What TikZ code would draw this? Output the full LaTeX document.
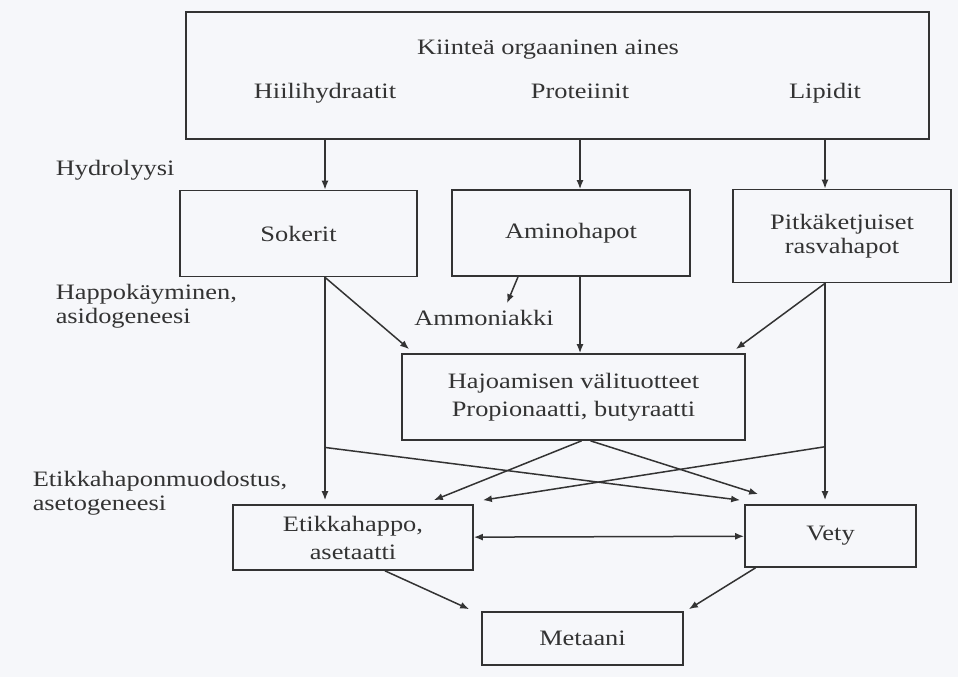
\documentclass[tikz,border=0pt]{standalone}
\usepackage{fontspec}
\setmainfont{Liberation Serif}[FakeStretch=1.2]
\usetikzlibrary{positioning}
\usetikzlibrary{calc}
\usetikzlibrary{arrows.meta}
\definecolor{ink}{HTML}{333333}
\definecolor{paper}{HTML}{F6F7FA}
\tikzset{
	-{Latex[length=9pt,width=7pt]},
	both/.style={{Latex[length=9pt,width=7pt]}-{Latex[length=9pt,width=7pt]}},
	every node/.style={align=center,font=\fontsize{22}{24}\selectfont},
	stagebox/.style={draw, rectangle, inner sep=0pt, line width=1.7pt},
	phase/.style={anchor=west, align=left, inner sep=0pt},
	item/.style={anchor=base},
	wide/.style={font=\fontsize{22}{28}\selectfont}
}

\begin{document}
\begin{tikzpicture}[x=1pt,y=-1pt,line width=1.5pt,color=ink]
	\fill[paper] (0,0) rectangle (958,677);
	\useasboundingbox (0,0) rectangle (958,677);
	% Source material
	\node (top) [stagebox, minimum width=743pt, minimum height=127pt] at (557.5,75.5) {};
	\node (kiintea) [item] at (548,55) {Kiinteä orgaaninen aines};
	\node (hiili) [item] at (325,99) {Hiilihydraatit};
	\node (prot) [item] at (580,99) {Proteiinit};
	\node (lipid) [item] at (825,99) {Lipidit};

	% Phases
	\node (hydro) [phase] at (55,170) {Hydrolyysi};
	\node (happo) [phase] at (55,306) {Happokäyminen,\\asidogeneesi};
	\node (aceto) [phase] at (32,493) {Etikkahaponmuodostus,\\asetogeneesi};

	\node (sokerit) [stagebox, minimum width=237pt, minimum height=86pt] at (298.5,233.5) {Sokerit};
	\node (amino) [stagebox, minimum width=238pt, minimum height=86pt] at (571,233) {Aminohapot};
	\node (pitka) [stagebox, minimum width=218pt, minimum height=93pt] at (842,236) {Pitkäketjuiset\\rasvahapot};
	\node (amm) at (484,318) {Ammoniakki};
	\node (haj) [stagebox, wide, minimum width=343pt, minimum height=86pt] at (573.5,397) {Hajoamisen välituotteet\\Propionaatti, butyraatti};
	\node (etikka) [stagebox, wide, minimum width=240pt, minimum height=65pt] at (353,537.5) {Etikkahappo,\\asetaatti};
	\node (vety) [stagebox, minimum width=171pt, minimum height=62pt] at (830.5,536) {Vety};
	\node (metaani) [stagebox, minimum width=201pt, minimum height=53pt] at (582.5,638.5) {Metaani};

	% Hydrolysis
	\draw (hiili |- top.south) -- (hiili |- sokerit.north);
	\draw (prot |- top.south) -- (prot |- amino.north);
	\draw (lipid |- top.south) -- (lipid |- pitka.north);

	% Acidogenesis
	\draw (hiili |- sokerit.south) -- ($(haj.north west)+(8,-4)$);
	\draw ($(amino.south)+(-53,0)$) -- ($(amm.north)+(23,-3)$);
	\draw (prot |- amino.south) -- (prot |- haj.north);
	\draw (lipid |- pitka.south) -- ($(haj.north east)+(-10,-4)$);

	% Acetogenesis
	\coordinate (lx) at ($(hiili |- sokerit.south)!0.75!(hiili |- etikka.north)$);
	\coordinate (rx) at ($(lipid |- pitka.south)!0.74!(lipid |- vety.north)$);
	\draw (hiili |- sokerit.south) -- ($(hiili |- etikka.north)+(0,-4)$);
	\draw (lipid |- pitka.south) -- ($(lipid |- vety.north)+(0,-4)$);
	\draw (lx) -- ($(vety.north west)+(-4,-4)$);
	\draw (rx) -- ($(etikka.north east)+(9,-4)$);
	\draw ($(haj.south)+(8,0)$) -- ($(etikka.north east)+(-40,-4)$);
	\draw ($(haj.south)+(17,0)$) -- ($(vety.north west)+(14,-10)$);
	\draw[both] (etikka) -- (vety);

	% Methanogenesis
	\draw ($(etikka.south)+(32,0)$) -- ($(metaani.north west)+(-12,-2)$);
	\draw ($(vety.south)+(-75,0)$) -- ($(metaani.north east)+(5,-2)$);
\end{tikzpicture}
\end{document}
